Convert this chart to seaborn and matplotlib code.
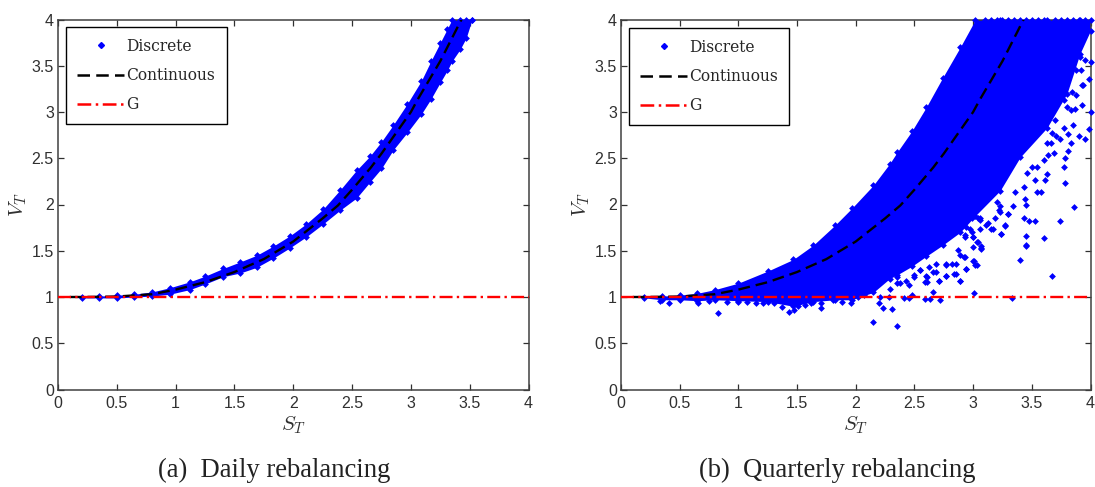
import numpy as np
import pandas as pd
import seaborn as sns
import matplotlib.pyplot as plt
from matplotlib.lines import Line2D

# values
curve_s = [0.1, 0.2, 0.5, 0.8, 1.0, 1.25, 1.5, 1.75, 2.0, 2.25, 2.38, 2.5, 2.66, 2.75, 3.0, 3.06, 3.25, 3.43]
curve_v = [1.0, 1.0, 1.005, 1.03, 1.08, 1.16, 1.27, 1.41, 1.6, 1.85, 1.99, 2.16, 2.4, 2.55, 3.0, 3.14, 3.55, 4.0]
floor_s = [0, 4]
floor_v = [1, 1]

# daily cloud outline
daily_s = [0.2, 0.35, 0.5, 0.65, 0.8, 0.95, 1.12, 1.25, 1.405, 1.55, 1.688, 1.83, 1.97, 2.11, 2.254, 2.4, 2.538,
           2.65, 2.75, 2.85, 2.97, 3.09, 3.17, 3.25, 3.31, 3.35, 3.42, 3.47, 3.52]
daily_up = [1.005, 1.01, 1.02, 1.03, 1.055, 1.1, 1.164, 1.225, 1.309, 1.38, 1.45, 1.55, 1.66, 1.79, 1.95, 2.16, 2.37,
            2.52, 2.68, 2.86, 3.09, 3.34, 3.55, 3.75, 3.9, 4, 4, 4, 4]
daily_lo = [0.99, 0.99, 0.99, 1.0, 1.01, 1.03, 1.08, 1.14, 1.22, 1.26, 1.32, 1.42, 1.53, 1.65, 1.79, 1.94, 2.07,
            2.24, 2.39, 2.59, 2.78, 2.98, 3.14, 3.32, 3.45, 3.55, 3.68, 3.8, 4]

# quarterly cloud outline
quart_s = [0.2, 0.35, 0.5, 0.65, 0.8, 1.0, 1.25, 1.468, 1.638, 1.823, 1.965, 2.15, 2.29, 2.354, 2.476, 2.6, 2.74,
           2.89, 3.02, 3.23, 3.4, 3.63, 3.8, 3.91, 4.0]
quart_up = [1.005, 1.01, 1.02, 1.04, 1.08, 1.15, 1.28, 1.406, 1.56, 1.776, 1.957, 2.208, 2.443, 2.568, 2.79, 3.05,
            3.37, 3.7, 4, 4, 4, 4, 4, 4, 4]
quart_lo = [0.99, 0.97, 0.97, 0.96, 0.97, 0.96, 0.95, 0.9, 0.95, 0.97, 0.97, 1.05, 1.2, 1.24, 1.33, 1.44, 1.56,
            1.7, 1.88, 2.15, 2.51, 2.83, 3.2, 3.63, 3.88]

# stray quarterly points
stray_s = [2.15, 2.35, 2.234, 2.305, 2.2, 1.96, 2.21, 2.41, 2.45, 2.59, 2.63, 2.72, 2.66, 3.01, 3.33, 3.67, 3.4, 3.45,
           3.07, 3.02, 3.01, 2.94, 2.89, 2.84, 2.77, 2.71, 2.59, 2.61, 2.66, 2.82, 2.77, 2.68, 2.55, 2.5, 2.43, 2.35,
           2.92, 2.87, 3.04, 2.48, 2.28, 2.07, 2.02, 0.823, 1.431, 1.37, 1.47, 1.51, 1.7, 1.7, 0.33, 0.41, 0.66, 1.21,
           1.07, 1.81, 1.57, 3.86, 3.74, 3.78, 3.6, 3.45, 3.45, 3.43, 3.48, 3.53, 3.34, 3.3, 3.27, 3.24, 3.44, 3.45,
           3.54, 3.58, 3.61, 3.63, 3.77, 3.78, 3.81, 3.83, 3.69, 3.64, 3.66, 3.74, 3.77, 3.81, 3.85, 3.9, 3.95, 3.99,
           4.0, 3.93, 3.87, 3.83, 3.88, 3.94, 3.99, 4.0, 3.92, 3.91, 3.22, 3.15, 3.0, 2.99, 3.06, 2.93, 3.07,
           3.1, 3.15, 3.2, 3.25, 3.3, 3.35, 3.45, 3.5, 3.55, 3.6, 3.7, 3.75, 3.85, 3.9, 3.95,
           2.6, 2.61, 2.71, 2.77, 2.85, 2.89, 2.94, 3.0, 3.03, 3.07, 3.03, 3.0, 2.89, 2.93, 2.85, 2.77, 2.68, 2.62,
           2.55, 2.5, 2.45, 2.38, 2.29, 2.35, 3.06, 3.0, 2.93, 2.97, 3.11, 3.17, 3.27, 3.24, 3.19, 3.23, 3.3, 3.06,
           0.75, 0.9, 1.0, 1.15, 1.3, 1.62, 1.88,
           3.67, 3.6, 3.5, 3.53, 3.43, 3.36, 3.23, 3.2, 3.13, 3.04, 2.99, 2.94, 3.8, 3.84, 3.93, 3.88, 3.95, 3.77,
           3.7, 3.71, 3.63, 3.46, 3.54]
stray_v = [0.725, 0.686, 0.877, 0.866, 0.93, 0.94, 0.996, 0.985, 0.985, 0.973, 0.973, 0.966, 1.05, 1.045, 0.99, 1.226,
           1.4, 1.55, 1.52, 1.35, 1.39, 1.3, 1.17, 1.25, 1.225, 1.175, 1.16, 1.22, 1.265, 1.36, 1.355, 1.355, 1.29,
           1.24, 1.17, 1.15, 1.43, 1.51, 1.6, 1.02, 1.0, 1.02, 1.0, 0.822, 0.841, 0.895, 0.858, 0.905, 0.88, 0.93,
           0.96, 0.94, 0.94, 0.93, 0.95, 0.97, 0.915, 1.97, 1.82, 2.23, 1.64, 1.66, 1.56, 1.85, 1.82, 1.82, 1.98, 1.9,
           1.77, 1.68, 2.06, 2.0, 2.14, 2.13, 2.26, 2.33, 2.41, 2.5, 2.58, 2.66, 2.56, 2.53, 2.66, 2.71, 2.83, 2.76,
           2.86, 2.74, 2.71, 2.82, 3.0, 3.08, 3.03, 3.02, 3.18, 3.29, 3.36, 3.54, 3.45, 3.6, 1.94, 1.74, 1.65, 1.85,
           1.83, 1.65, 1.55,
           4, 4, 4, 4, 4, 4, 4, 4, 4, 4, 4, 4, 4, 4, 4,
           1.226, 1.165, 1.175, 1.226, 1.247, 1.175, 1.3, 1.39, 1.345, 1.525, 1.6, 1.54, 1.45, 1.435, 1.36, 1.345,
           1.27, 1.325, 1.29, 1.22, 1.13, 1.147, 1.09, 1.22, 1.74, 1.65, 1.67, 1.74, 1.775, 1.74, 1.775, 1.685, 1.85,
           1.92, 1.9, 1.85,
           0.96, 0.95, 0.95, 0.94, 0.94, 0.93, 0.95,
           2.77, 2.48, 2.41, 2.26, 2.19, 2.14, 1.98, 2.03, 1.8, 1.85, 1.7, 1.76, 3.05, 3.22, 3.29, 3.45, 3.56, 3.13,
           2.91, 2.74, 2.66, 2.34, 2.41]

s_ticks = [0, 0.5, 1, 1.5, 2, 2.5, 3, 3.5, 4]
s_ticklabels = ['0', '0.5', '1', '1.5', '2', '2.5', '3', '3.5', '4']
captions = ['(a)  Daily rebalancing', '(b)  Quarterly rebalancing']

W, H = 1095, 487
sns.set_style('white')
plt.rcParams['font.family'] = ['Liberation Sans', 'DejaVu Sans']
plt.rcParams['mathtext.fontset'] = 'cm'


def draw_panel(ax, cloud_s, cloud_up, cloud_lo, extra_s, extra_v, caption, caption_x, legend_px):
    ax.fill_between(cloud_s, cloud_lo, cloud_up, color='#0000ff', lw=0, zorder=2)
    edge = pd.DataFrame({
        's': list(cloud_s) + list(cloud_s) + list(extra_s),
        'v': list(cloud_up) + list(cloud_lo) + list(extra_v),
    })
    sns.scatterplot(data=edge, x='s', y='v', ax=ax, marker='D', s=12, color='#0000ff',
                    linewidth=0, clip_on=False, zorder=3, legend=False)
    sns.lineplot(x=curve_s, y=curve_v, ax=ax, color='black', lw=1.7, sort=False,
                 dashes=(5, 2.5), zorder=4, legend=False, errorbar=None)
    sns.lineplot(x=floor_s, y=floor_v, ax=ax, color='#ff0000', lw=1.7, sort=False,
                 dashes=(5.5, 1.8, 1, 1.8), zorder=5, legend=False, errorbar=None)

    ax.set_xlim(0, 4)
    ax.set_ylim(0, 4)
    ax.set_xticks(s_ticks)
    ax.set_xticklabels(s_ticklabels)
    ax.set_yticks(s_ticks)
    ax.set_yticklabels(s_ticklabels)
    ax.tick_params(axis='both', which='both', direction='in', length=4, width=0.9, color='#303030',
                   top=True, right=True, bottom=True, left=True, labelsize=11.5, labelcolor='#303030', pad=5)
    ax.tick_params(axis='y', pad=3)
    for sp in ax.spines.values():
        sp.set_visible(True)
        sp.set_color('#404040')
        sp.set_linewidth(1.1)
    ax.set_xlabel('$S_T$', fontsize=15, color='#303030', labelpad=2)
    ax.set_ylabel('$V_T$', fontsize=15, color='#303030', labelpad=2)

    handles = [
        Line2D([], [], color='#0000ff', marker='D', ms=3, ls='none', label='Discrete'),
        Line2D([], [], color='black', lw=1.8, dashes=(5, 2.5), label='Continuous'),
        Line2D([], [], color='#ff0000', lw=1.8, dashes=(5.5, 1.8, 1, 1.8), label='G'),
    ]
    left, top, width = legend_px
    leg = ax.legend(handles=handles, loc='upper left', frameon=True, fancybox=False, framealpha=1,
                    edgecolor='black', mode='expand', borderaxespad=0, borderpad=0.7, labelspacing=0.78,
                    handlelength=3.05, handletextpad=0.1, prop={'family': 'DejaVu Serif', 'size': 11.2})
    leg.set_bbox_to_anchor((left / W, 1 - top / H, width / W, 0), transform=ax.figure.transFigure)
    leg.get_frame().set_linewidth(1.0)
    leg.set_zorder(10)

    ax.figure.text(caption_x / W, 1 - 470 / H, caption, ha='center', va='center',
                   fontsize=19.2, color='#222222', family='Liberation Serif')


fig = plt.figure(figsize=(W / 100, H / 100), dpi=100)
ax1 = fig.add_axes([58 / W, 1 - 389.5 / H, 470.5 / W, 370 / H])
ax2 = fig.add_axes([621 / W, 1 - 389.5 / H, 469.5 / W, 370 / H])

draw_panel(ax1, daily_s, daily_up, daily_lo, [], [], captions[0], 274.5, (66, 27, 161))
draw_panel(ax2, quart_s, quart_up, quart_lo, stray_s, stray_v, captions[1], 837, (629, 28, 160))

fig.savefig('out.png', dpi=100)
